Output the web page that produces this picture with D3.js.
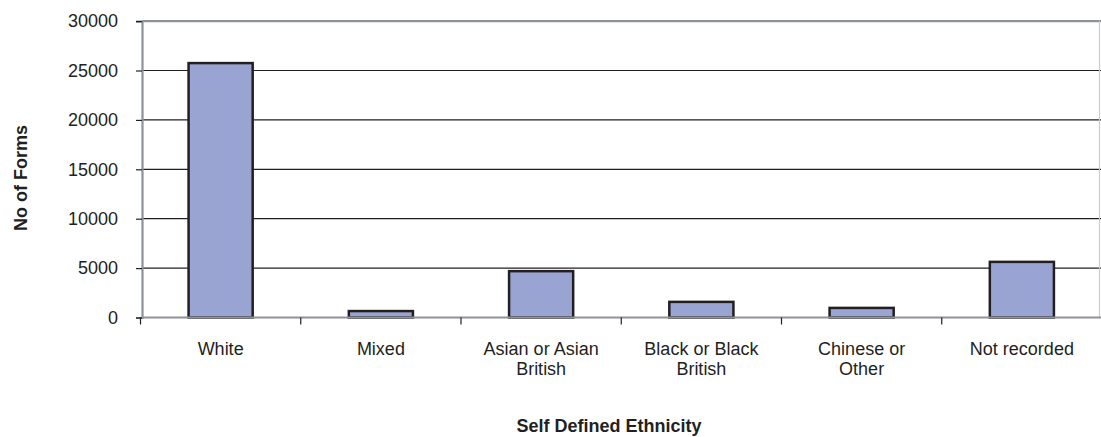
<!DOCTYPE html>
<html>
<head>
<meta charset="utf-8">
<script src="https://cdn.jsdelivr.net/npm/d3@7"></script>
<style>
  html, body { margin: 0; padding: 0; background: #fff; }
  svg { display: block; }
  text { font-family: "Liberation Sans", Arial, sans-serif; fill: #231F20; }
</style>
</head>
<body>
<svg id="chart" width="1101" height="437"></svg>
<script>
// Forms received, by self defined ethnicity
const categories = ["White", "Mixed", "Asian or Asian British", "Black or Black British", "Chinese or Other", "Not recorded"];
const categoryLines = [["White"], ["Mixed"], ["Asian or Asian", "British"], ["Black or Black", "British"], ["Chinese or", "Other"], ["Not recorded"]];
const forms = [25750, 650, 4690, 1580, 970, 5630];
const yTicks = [0, 5000, 10000, 15000, 20000, 25000, 30000];

const svg = d3.select("#chart");
const plotLeft = 142, plotRight = 1102, plotTop = 21.1, plotBottom = 317.5;

const x = d3.scaleBand().domain(categories).range([plotLeft - 1.5, plotRight]).paddingInner(0.6).paddingOuter(0.3);
const y = d3.scaleLinear().domain([0, 30000]).range([plotBottom, plotTop]);

// horizontal gridlines
svg.append("g").selectAll("line")
  .data(yTicks.filter(v => v > 0 && v < 30000))
  .join("line")
  .attr("x1", plotLeft).attr("x2", 1101)
  .attr("y1", d => y(d)).attr("y2", d => y(d))
  .attr("stroke", "#231F20").attr("stroke-width", 1.2);

// plot frame: top and right edges
svg.append("line").attr("x1", plotLeft).attr("x2", 1101).attr("y1", y(30000)).attr("y2", y(30000))
  .attr("stroke", "#8D9298").attr("stroke-width", 2.4);
svg.append("line").attr("x1", 1099.5).attr("x2", 1099.5).attr("y1", y(30000)).attr("y2", plotBottom)
  .attr("stroke", "#C9CCD0").attr("stroke-width", 1.2);

// bars
svg.append("g").selectAll("rect")
  .data(categories)
  .join("rect")
  .attr("x", d => x(d))
  .attr("width", x.bandwidth())
  .attr("y", (d, i) => y(forms[i]))
  .attr("height", (d, i) => y(0) - y(forms[i]))
  .attr("fill", "#9AA4D2")
  .attr("stroke", "#231F20")
  .attr("stroke-width", 2.5);

// y axis
const yAxis = svg.append("g").attr("transform", `translate(${plotLeft},0)`)
  .call(d3.axisLeft(y).tickValues(yTicks).tickSize(6).tickPadding(18).tickFormat(d3.format("d")));
yAxis.select(".domain").attr("stroke", "#8D9298").attr("stroke-width", 2.2);
yAxis.selectAll(".tick line").attr("stroke", "#231F20").attr("stroke-width", 1.2);
yAxis.selectAll(".tick text").attr("font-size", 18).attr("fill", "#231F20")
  .style("font-family", '"Liberation Sans", Arial, sans-serif');

// x axis baseline and category boundary ticks
svg.append("line").attr("x1", plotLeft).attr("x2", 1101).attr("y1", plotBottom).attr("y2", plotBottom)
  .attr("stroke", "#8D9298").attr("stroke-width", 2.2);
const gap = (x.step() - x.bandwidth()) / 2;
const bounds = categories.map(c => x(c) - gap).concat([x(categories[categories.length - 1]) + x.bandwidth() + gap]);
svg.append("g").selectAll("line")
  .data(bounds)
  .join("line")
  .attr("x1", d => d).attr("x2", d => d)
  .attr("y1", plotBottom).attr("y2", plotBottom + 7)
  .attr("stroke", "#231F20").attr("stroke-width", 1.2);

// category labels
const labels = svg.append("g").selectAll("text")
  .data(categories)
  .join("text")
  .attr("text-anchor", "middle")
  .attr("font-size", 18)
  .attr("transform", d => `translate(${x(d) + x.bandwidth() / 2},355)`);
labels.selectAll("tspan")
  .data((d, i) => categoryLines[i])
  .join("tspan")
  .attr("x", 0)
  .attr("y", (d, i) => i * 20)
  .text(d => d);

// axis titles
svg.append("text")
  .attr("x", 609).attr("y", 432)
  .attr("text-anchor", "middle")
  .attr("font-size", 18).attr("font-weight", "bold")
  .text("Self Defined Ethnicity");

svg.append("text")
  .attr("transform", "translate(27,178) rotate(-90)")
  .attr("text-anchor", "middle")
  .attr("font-size", 18).attr("font-weight", "bold")
  .text("No of Forms");
</script>
</body>
</html>
